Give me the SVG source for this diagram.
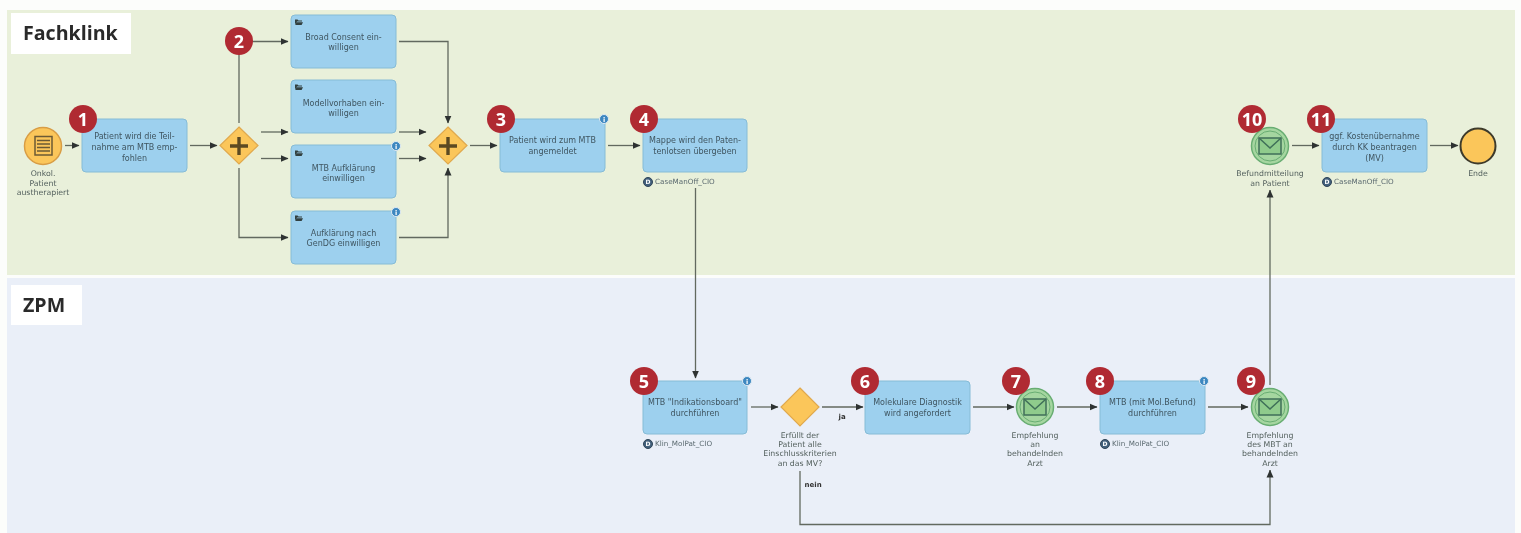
<svg xmlns="http://www.w3.org/2000/svg" width="1521" height="533" viewBox="0 0 1521 533">
<style>
text{font-family:"DejaVu Sans","Liberation Sans",sans-serif}
.t{font-size:8px;fill:#3f5560;text-anchor:middle}
.l{font-size:7.800px;fill:#55625f;text-anchor:middle}
.r{font-size:7.200px;fill:#5b6a70}
.b{fill:#9dd0ee;stroke:#86bcd6;stroke-width:1}
.c{fill:none;stroke:#62695f;stroke-width:1.300}
.g{fill:#fbc65a;stroke:#e0a94e;stroke-width:1.200}
.p{fill:none;stroke:#5c4a22;stroke-width:3.400}
.n{fill:#b02a33}
.nt{font-family:"Open Sans","DejaVu Sans",sans-serif;font-size:18px;font-weight:700;fill:#fff;text-anchor:middle}
.m{fill:#a5d6a0;stroke:#68ad72;stroke-width:1.500}
.mi{fill:none;stroke:#68ad72;stroke-width:1}
.e{fill:#8fcb8c;stroke:#3f6f58;stroke-width:1.500}
.i{fill:#3d87c0;stroke:#dfeaf3;stroke-width:1}
.it{font-size:6.500px;font-weight:700;fill:#fff;text-anchor:middle}
.d{fill:#43607c;stroke:#2f4558;stroke-width:1}
.dt{font-size:6px;font-weight:700;fill:#fff;text-anchor:middle}
.f{fill:#33403f}
.h{font-family:"Open Sans","Liberation Sans",sans-serif;font-size:19.600px;font-weight:700;fill:#2a2a2a}
.el{font-size:7px;font-weight:700;fill:#333}
</style>
<defs>
<marker id="a" viewBox="0 0 8 8" refX="7.500" refY="4" markerWidth="8" markerHeight="8" markerUnits="userSpaceOnUse" orient="auto"><path d="M0 0.500L8 4L0 7.500Z" fill="#2d3330"/></marker>
<filter id="soft" x="0" y="0" width="100%" height="100%"><feGaussianBlur stdDeviation="0.450"/></filter>
<path id="fd" d="M0 1.500h2.500l1 1h3.500v1H2L0 6.500zM1.500 4.200h6.500L6.600 7H0.300z"/>
</defs>
<rect width="1521" height="533" fill="#fcfdfb"/>
<g filter="url(#soft)">
<rect id="lane1" x="7" y="10" width="1508" height="265" fill="#e9f0da"/>
<rect id="lane2" x="7" y="278" width="1508" height="255" fill="#eaeff8"/>
<g id="label-fachklink"><rect x="11" y="13" width="120" height="41" fill="#fff"/><text class="h" x="23" y="40">Fachklink</text></g>
<g id="label-zpm"><rect x="11" y="285" width="71" height="40" fill="#fff"/><text class="h" x="23" y="312">ZPM</text></g>
<g id="connectors">
<path class="c" d="M65 145.500H79" marker-end="url(#a)"/>
<path class="c" d="M190 145.500H217" marker-end="url(#a)"/>
<path class="c" d="M239 123V41.500H288" marker-end="url(#a)"/>
<path class="c" d="M261 132H288" marker-end="url(#a)"/>
<path class="c" d="M261 158.500H288" marker-end="url(#a)"/>
<path class="c" d="M239 168V237.500H288" marker-end="url(#a)"/>
<path class="c" d="M399 41.500H448V123" marker-end="url(#a)"/>
<path class="c" d="M399 132H426" marker-end="url(#a)"/>
<path class="c" d="M399 158.500H426" marker-end="url(#a)"/>
<path class="c" d="M399 237.500H448V168" marker-end="url(#a)"/>
<path class="c" d="M470 145.500H497" marker-end="url(#a)"/>
<path class="c" d="M608 145.500H640" marker-end="url(#a)"/>
<path class="c" d="M695.500 188V378" marker-end="url(#a)"/>
<path class="c" d="M751 407H778" marker-end="url(#a)"/>
<path class="c" d="M822 407H863" marker-end="url(#a)"/>
<path class="c" d="M973 407H1014" marker-end="url(#a)"/>
<path class="c" d="M1057 407H1097" marker-end="url(#a)"/>
<path class="c" d="M1208 407H1248" marker-end="url(#a)"/>
<path class="c" d="M800 471V524.500H1270V470" marker-end="url(#a)"/>
<path class="c" d="M1270 385V190" marker-end="url(#a)"/>
<path class="c" d="M1292 145.500H1319" marker-end="url(#a)"/>
<path class="c" d="M1430 145.500H1458" marker-end="url(#a)"/>
</g>
<g id="start"><circle cx="43" cy="146" r="18.500" fill="#fbc65a" stroke="#d89d45" stroke-width="1.500"/><rect x="35" y="136.500" width="17" height="18.500" fill="none" stroke="#6c5a35" stroke-width="1.500"/><path d="M37 140.500h13M37 144h13M37 147.500h13M37 151h13" stroke="#6c5a35" stroke-width="1.300"/><text class="l"><tspan x="43" y="176">Onkol.</tspan><tspan x="43" y="185.500">Patient</tspan><tspan x="43" y="195">austherapiert</tspan></text></g>
<g id="task1"><rect class="b" x="82" y="119" width="105" height="53" rx="4"/><text class="t"><tspan x="134.500" y="139">Patient wird die Teil-</tspan><tspan x="134.500" y="150">nahme am MTB emp-</tspan><tspan x="134.500" y="160.500">fohlen</tspan></text></g>
<g id="gw1"><path class="g" d="M239 127L258 145.500L239 164L220 145.500Z"/><path class="p" d="M239 137V155M230 146H248"/></g>
<g id="broad"><rect class="b" x="291" y="15" width="105" height="53" rx="4"/><use href="#fd" class="f" x="295" y="18"/><text class="t"><tspan x="343.500" y="40">Broad Consent ein-</tspan><tspan x="343.500" y="50">willigen</tspan></text></g>
<g id="modell"><rect class="b" x="291" y="80" width="105" height="53" rx="4"/><use href="#fd" class="f" x="295" y="83"/><text class="t"><tspan x="343.500" y="106">Modellvorhaben ein-</tspan><tspan x="343.500" y="116">willigen</tspan></text></g>
<g id="mtbauf"><rect class="b" x="291" y="145" width="105" height="53" rx="4"/><use href="#fd" class="f" x="295" y="149"/><circle class="i" cx="396" cy="146" r="4.500"/><text class="it" x="396" y="148.500">i</text><text class="t"><tspan x="343.500" y="170.500">MTB Aufklärung</tspan><tspan x="343.500" y="181">einwilligen</tspan></text></g>
<g id="gendg"><rect class="b" x="291" y="211" width="105" height="53" rx="4"/><use href="#fd" class="f" x="295" y="214"/><circle class="i" cx="396" cy="212" r="4.500"/><text class="it" x="396" y="214.500">i</text><text class="t"><tspan x="343.500" y="235.500">Aufklärung nach</tspan><tspan x="343.500" y="246">GenDG einwilligen</tspan></text></g>
<g id="gw2"><path class="g" d="M448 127L467 145.500L448 164L429 145.500Z"/><path class="p" d="M448 137V155M439 146H457"/></g>
<g id="task3"><rect class="b" x="500" y="119" width="105" height="53" rx="4"/><circle class="i" cx="604" cy="119" r="4.500"/><text class="it" x="604" y="121.500">i</text><text class="t"><tspan x="552.500" y="143">Patient wird zum MTB</tspan><tspan x="552.500" y="154">angemeldet</tspan></text></g>
<g id="task4"><rect class="b" x="643" y="119" width="104" height="53" rx="4"/><text class="t"><tspan x="695" y="143">Mappe wird den Paten-</tspan><tspan x="695" y="154">tenlotsen übergeben</tspan></text><circle class="d" cx="648" cy="182" r="4.500"/><text class="dt" x="648" y="184">D</text><text class="r" x="655" y="183.500">CaseManOff_CIO</text></g>
<g id="task5"><rect class="b" x="643" y="381" width="104" height="53" rx="4"/><circle class="i" cx="747" cy="381" r="4.500"/><text class="it" x="747" y="383.500">i</text><text class="t"><tspan x="695" y="405">MTB "Indikationsboard"</tspan><tspan x="695" y="416">durchführen</tspan></text><circle class="d" cx="648" cy="444" r="4.500"/><text class="dt" x="648" y="446">D</text><text class="r" x="655" y="445.500">Klin_MolPat_CIO</text></g>
<g id="gw3"><path class="g" d="M800 388L819 407L800 426L781 407Z"/><text class="l"><tspan x="800" y="438">Erfüllt der</tspan><tspan x="800" y="447">Patient alle</tspan><tspan x="800" y="456">Einschlusskriterien</tspan><tspan x="800" y="465.500">an das MV?</tspan></text></g>
<g id="edge-labels"><text class="el" x="838.500" y="419">ja</text><text class="el" x="804.500" y="486.500">nein</text></g>
<g id="task6"><rect class="b" x="865" y="381" width="105" height="53" rx="4"/><text class="t"><tspan x="917.500" y="405">Molekulare Diagnostik</tspan><tspan x="917.500" y="416">wird angefordert</tspan></text></g>
<g id="msg7"><circle class="m" cx="1035" cy="407" r="18.500"/><circle class="mi" cx="1035" cy="407" r="15"/><rect class="e" x="1024" y="399" width="22" height="16"/><path d="M1024 399L1035 409L1046 399" fill="none" stroke="#3f6f58" stroke-width="1.500"/><text class="l"><tspan x="1035" y="438">Empfehlung</tspan><tspan x="1035" y="447">an</tspan><tspan x="1035" y="456">behandelnden</tspan><tspan x="1035" y="465.500">Arzt</tspan></text></g>
<g id="task8"><rect class="b" x="1100" y="381" width="105" height="53" rx="4"/><circle class="i" cx="1204" cy="381" r="4.500"/><text class="it" x="1204" y="383.500">i</text><text class="t"><tspan x="1152.500" y="405">MTB (mit Mol.Befund)</tspan><tspan x="1152.500" y="416">durchführen</tspan></text><circle class="d" cx="1105" cy="444" r="4.500"/><text class="dt" x="1105" y="446">D</text><text class="r" x="1112" y="445.500">Klin_MolPat_CIO</text></g>
<g id="msg9"><circle class="m" cx="1270" cy="407" r="18.500"/><circle class="mi" cx="1270" cy="407" r="15"/><rect class="e" x="1259" y="399" width="22" height="16"/><path d="M1259 399L1270 409L1281 399" fill="none" stroke="#3f6f58" stroke-width="1.500"/><text class="l"><tspan x="1270" y="438">Empfehlung</tspan><tspan x="1270" y="447">des MBT an</tspan><tspan x="1270" y="456">behandelnden</tspan><tspan x="1270" y="465.500">Arzt</tspan></text></g>
<g id="msg10"><circle class="m" cx="1270" cy="146" r="18.500"/><circle class="mi" cx="1270" cy="146" r="15"/><rect class="e" x="1259" y="138" width="22" height="16"/><path d="M1259 138L1270 148L1281 138" fill="none" stroke="#3f6f58" stroke-width="1.500"/><text class="l"><tspan x="1270" y="176">Befundmitteilung</tspan><tspan x="1270" y="186">an Patient</tspan></text></g>
<g id="task11"><rect class="b" x="1322" y="119" width="105" height="53" rx="4"/><text class="t"><tspan x="1374.500" y="139">ggf. Kostenübernahme</tspan><tspan x="1374.500" y="150">durch KK beantragen</tspan><tspan x="1374.500" y="160.500">(MV)</tspan></text><circle class="d" cx="1327" cy="182" r="4.500"/><text class="dt" x="1327" y="184">D</text><text class="r" x="1334" y="183.500">CaseManOff_CIO</text></g>
<g id="end"><circle cx="1478" cy="146" r="17.500" fill="#fbc65a" stroke="#3e3a2c" stroke-width="2"/><text class="l" x="1478" y="176">Ende</text></g>
<g id="badges">
<g id="b1"><circle class="n" cx="83" cy="119" r="14"/><text class="nt" x="83" y="125.500">1</text></g>
<g id="b2"><circle class="n" cx="239" cy="41" r="14"/><text class="nt" x="239" y="47.500">2</text></g>
<g id="b3"><circle class="n" cx="501" cy="119" r="14"/><text class="nt" x="501" y="125.500">3</text></g>
<g id="b4"><circle class="n" cx="644" cy="119" r="14"/><text class="nt" x="644" y="125.500">4</text></g>
<g id="b5"><circle class="n" cx="644" cy="381" r="14"/><text class="nt" x="644" y="387.500">5</text></g>
<g id="b6"><circle class="n" cx="865" cy="381" r="14"/><text class="nt" x="865" y="387.500">6</text></g>
<g id="b7"><circle class="n" cx="1016" cy="381" r="14"/><text class="nt" x="1016" y="387.500">7</text></g>
<g id="b8"><circle class="n" cx="1100" cy="381" r="14"/><text class="nt" x="1100" y="387.500">8</text></g>
<g id="b9"><circle class="n" cx="1251" cy="381" r="14"/><text class="nt" x="1251" y="387.500">9</text></g>
<g id="b10"><circle class="n" cx="1252" cy="119" r="14"/><text class="nt" x="1252" y="125.500">10</text></g>
<g id="b11"><circle class="n" cx="1321" cy="119" r="14"/><text class="nt" x="1321" y="125.500">11</text></g>
</g>
</g>
</svg>
